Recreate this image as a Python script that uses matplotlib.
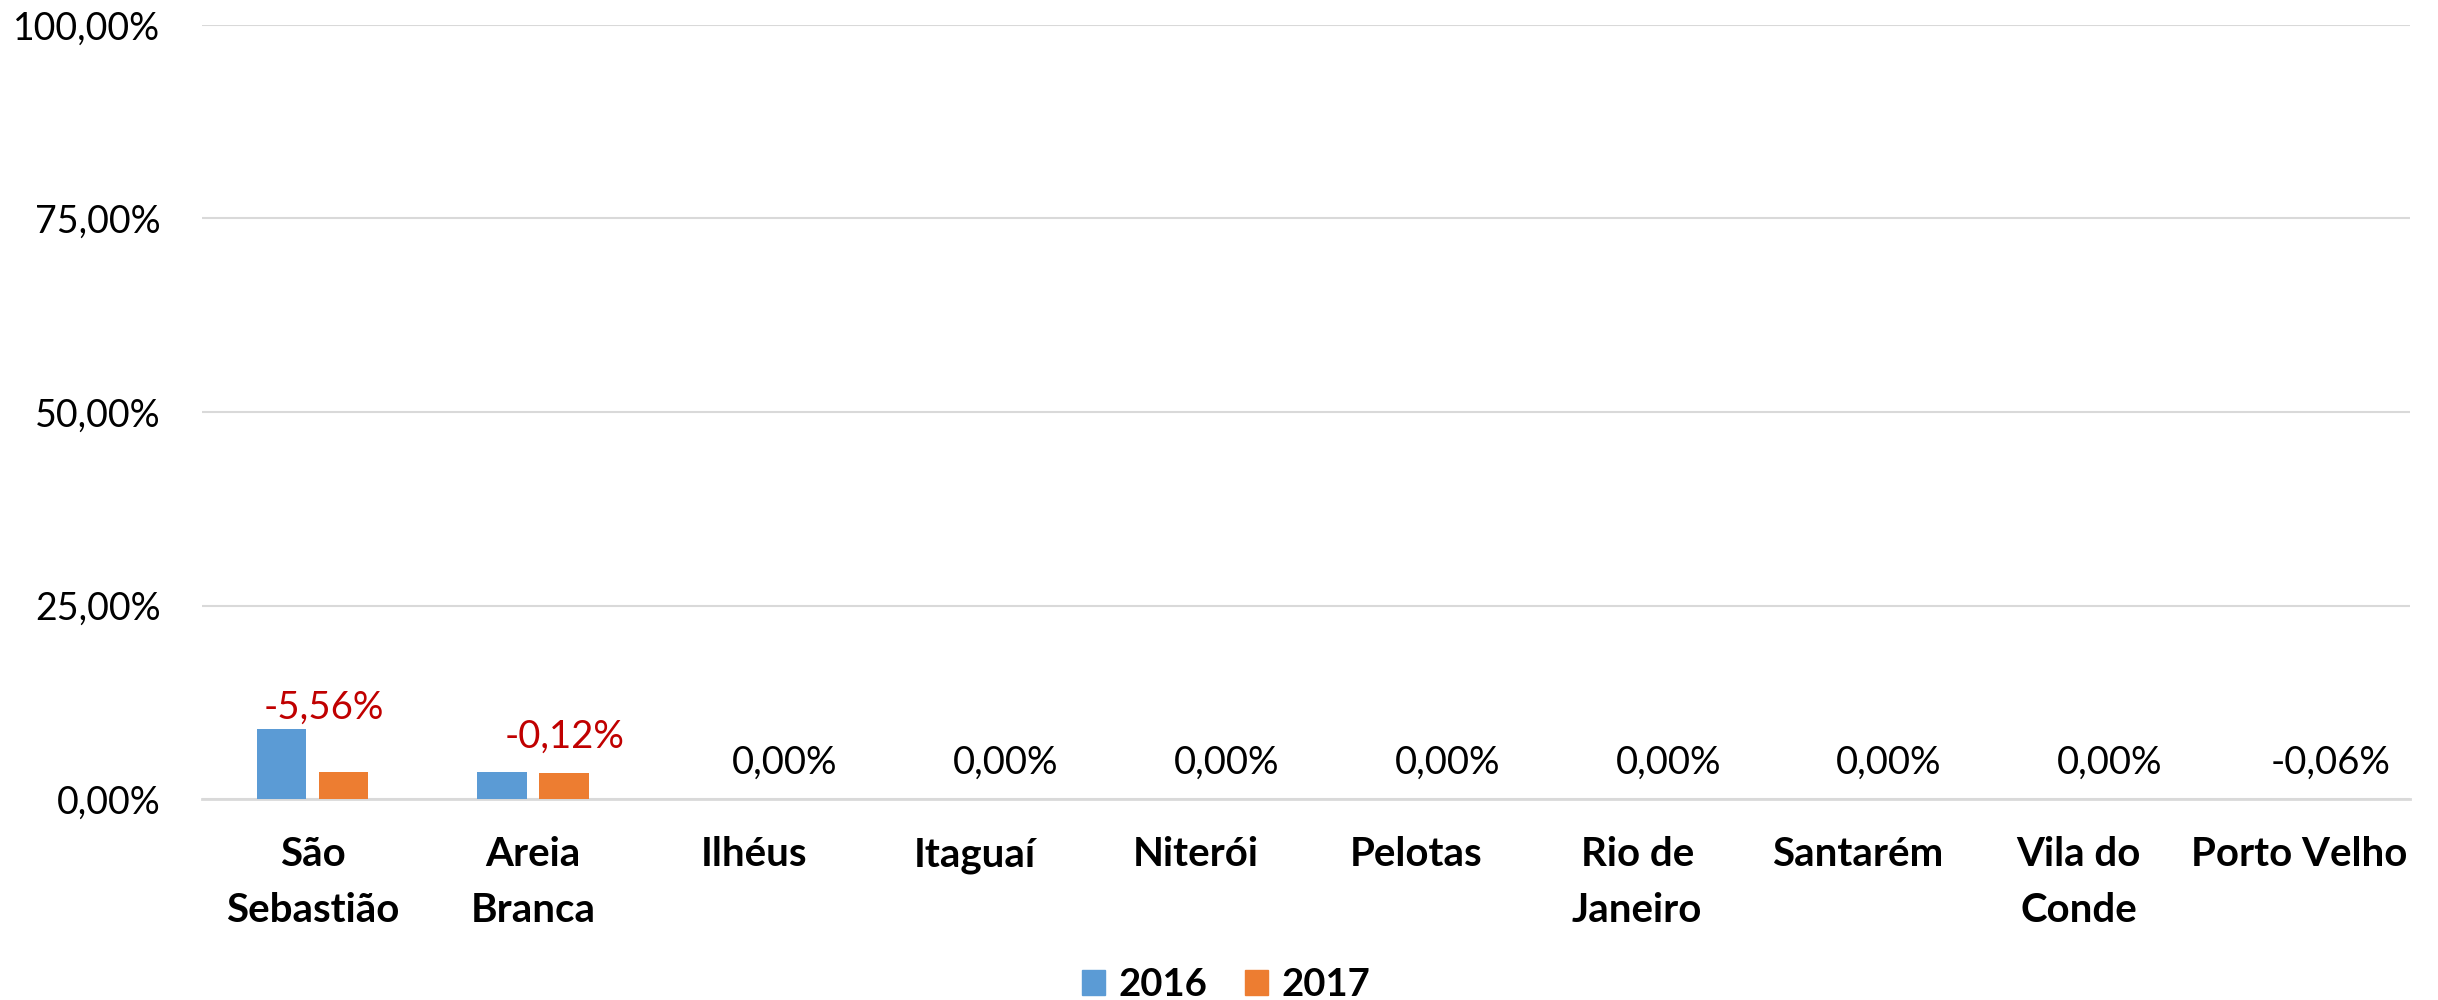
import matplotlib.pyplot as plt
import matplotlib.patches as patches
import numpy as np

plt.rcParams['font.family'] = ['Lato', 'DejaVu Sans']

categories = ['São\nSebastião', 'Areia\nBranca', 'Ilhéus', 'Itaguaí', 'Niterói',
              'Pelotas', 'Rio de\nJaneiro', 'Santarém', 'Vila do\nConde', 'Porto Velho']
values_2016 = [9.10, 3.52, 0.0, 0.0, 0.0, 0.0, 0.0, 0.0, 0.0, 0.06]
values_2017 = [3.54, 3.40, 0.0, 0.0, 0.0, 0.0, 0.0, 0.0, 0.0, 0.0]
variation = ['-5,56%', '-0,12%', '0,00%', '0,00%', '0,00%',
             '0,00%', '0,00%', '0,00%', '0,00%', '-0,06%']
label_colors = ['#C00000', '#C00000', 'black', 'black', 'black',
                'black', 'black', 'black', 'black', 'black']
yticks = [0, 25, 50, 75, 100]
ytick_labels = ['0,00%', '25,00%', '50,00%', '75,00%', '100,00%']

blue = '#5B9BD5'
orange = '#ED7D31'

fig = plt.figure(figsize=(24.38, 10), dpi=100)
ax = fig.add_axes([0.0829, 0.201, 0.9056, 0.774])

x = np.arange(len(categories))
w = 0.226
off = 0.1405
ax.bar(x - off, values_2016, w, color=blue, zorder=3)
ax.bar(x + off, values_2017, w, color=orange, zorder=3)

# variation labels sit over the 2017 bar (first one nudged by hand)
for i, txt in enumerate(variation):
    dx, dy = 0, 26
    if i == 0:
        dx, dy = -14, 46
    ax.annotate(txt, (x[i] + off, values_2017[i]), xytext=(dx, dy),
                textcoords='offset points', ha='center', va='center',
                fontsize=27.5, color=label_colors[i])

ax.set_xlim(-0.5, len(categories) - 0.5)
ax.set_ylim(0, 100)
ax.set_yticks(yticks)
ax.set_yticklabels(ytick_labels, fontsize=27)
ax.set_xticks(x)
ax.set_xticklabels(categories, fontsize=29, fontweight='bold', linespacing=1.6)
ax.tick_params(axis='both', length=0)
ax.tick_params(axis='y', pad=30)
ax.tick_params(axis='x', pad=27)
ax.yaxis.grid(True, color='#d9d9d9', linewidth=1.5, zorder=0)
for s in ['top', 'right', 'left']:
    ax.spines[s].set_visible(False)
ax.spines['bottom'].set_color('#d9d9d9')
ax.spines['bottom'].set_linewidth(2)

handles = [patches.Patch(color=blue, label='2016'), patches.Patch(color=orange, label='2017')]
leg = fig.legend(handles=handles, loc='center', bbox_to_anchor=(0.503, 0.015), ncol=2,
                 frameon=False, handlelength=0.6, handleheight=0.6, handletextpad=0.35,
                 columnspacing=1.0, prop={'size': 27.5, 'weight': 'bold'})

plt.savefig('out.png', dpi=100)
plt.close()
